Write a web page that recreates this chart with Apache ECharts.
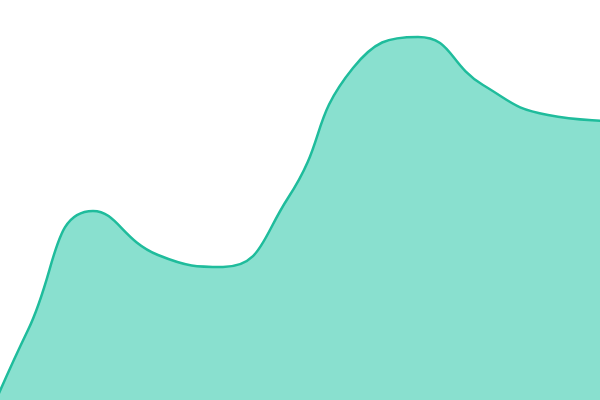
<!DOCTYPE html>
<html><head><meta charset="utf-8">
<script src="https://cdn.jsdelivr.net/npm/echarts@6/dist/echarts.min.js"></script>
<style>html,body{margin:0;padding:0;background:#fff}#c{width:600px;height:400px}</style>
</head><body><div id="c"></div>
<script>
const categories = ['A','B','C','D','E','F','G','H','I','J','K'];
const values = [-80, 70, 189, 145, 133, 202, 332, 363, 315, 285, 279];
const chart = echarts.init(document.getElementById('c'));
chart.setOption({
  animation: false,
  grid: {left: -37, right: -13, top: 0, bottom: 0, outerBoundsMode: 'none'},
  xAxis: {type: 'category', data: categories, boundaryGap: false, show: false},
  yAxis: {type: 'value', min: 0, max: 400, show: false},
  series: [{
    type: 'line', data: values, smooth: true, symbol: 'none',
    lineStyle: {color: '#1fbc9c', width: 2.5},
    areaStyle: {color: '#89e0cf', opacity: 1}
  }]
});
</script></body></html>
